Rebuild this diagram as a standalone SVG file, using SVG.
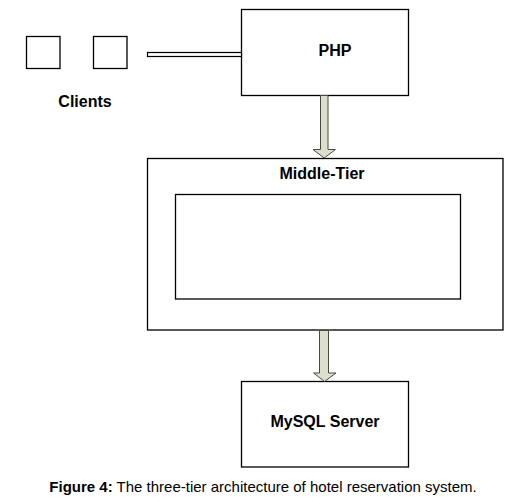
<svg xmlns="http://www.w3.org/2000/svg" width="532" height="503" viewBox="0 0 532 503">
<style>
  .box { fill: #fff; stroke: #000; stroke-width: 1.3; }
  .lbl { font-family: "Liberation Sans", Arial, sans-serif; font-weight: bold; font-size: 16px; fill: #000; text-anchor: middle; }
  .arrow { fill: #dcdfcd; stroke: #4a4a40; stroke-width: 1; }
  .cap { font-family: "Liberation Sans", Arial, sans-serif; font-size: 15px; fill: #000; }
</style>
<rect width="532" height="503" fill="#fff"/>
<g id="clients">
  <rect class="box" x="26.5" y="36.5" width="33.5" height="32"/>
  <rect class="box" x="93.5" y="36.5" width="33.5" height="32"/>
  <text class="lbl" x="85" y="107">Clients</text>
</g>
<g id="php">
  <rect class="box" x="241.5" y="9.5" width="167" height="86"/>
  <text class="lbl" x="335" y="56">PHP</text>
</g>
<g id="middle-tier">
  <rect class="box" x="147.5" y="158.5" width="355.5" height="171.5"/>
  <text class="lbl" x="322" y="179">Middle-Tier</text>
  <rect class="box" x="175.5" y="194.5" width="285" height="104.5"/>
</g>
<g id="mysql">
  <rect class="box" x="241.5" y="381.5" width="167" height="85.5"/>
  <text class="lbl" x="325" y="427">MySQL Server</text>
</g>
<g id="connectors">
  <rect x="147.5" y="52.5" width="94" height="4" fill="#fff" stroke="#000" stroke-width="1.2"/>
  <path class="arrow" d="M320.5,95.5 L328,95.5 L328,149.5 L335.5,149.5 L324.2,158 L313,149.5 L320.5,149.5 Z"/>
  <path class="arrow" d="M319.5,330.5 L328.5,330.5 L328.5,373 L336,373 L324.5,381.5 L313.5,373 L319.5,373 Z"/>
</g>
<text class="cap" x="263" y="492" text-anchor="middle"><tspan font-weight="bold">Figure 4:</tspan> The three-tier architecture of hotel reservation system.</text>
</svg>
